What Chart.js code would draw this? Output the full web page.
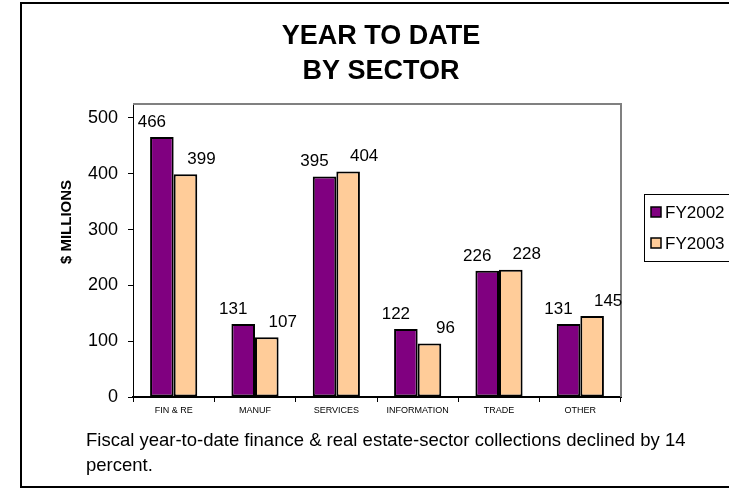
<!DOCTYPE html>
<html>
<head>
<meta charset="utf-8">
<script src="https://cdn.jsdelivr.net/npm/chart.js@4/dist/chart.umd.min.js"></script>
<style>
  html, body { margin: 0; padding: 0; background: #fff; }
  body { width: 729px; height: 488px; position: relative; overflow: hidden; }
  #frame { position: absolute; left: 20px; top: 2px; width: 740px; height: 482px; border: 2px solid #000; }
  #chart { position: absolute; left: 0; top: 0; }
</style>
</head>
<body>
<div id="frame"></div>
<canvas id="chart" width="729" height="488"></canvas>
<script>
const sectors = ["FIN & RE", "MANUF", "SERVICES", "INFORMATION", "TRADE", "OTHER"];
const fy2002 = [466, 131, 395, 122, 226, 131];
const fy2003 = [399, 107, 404, 96, 228, 145];
const yTicks = [0, 100, 200, 300, 400, 500];
const titleLines = ["YEAR TO DATE", "BY SECTOR"];
const yTitle = "$ MILLIONS";
const note = ["Fiscal year-to-date finance & real estate-sector collections declined by 14", "percent."];

const FONT = "'Liberation Sans', Arial, sans-serif";

// labels sit a bit off the bar tops, like the original
const labelOffsets = [{ dx: -10, dy: -15 }, { dx: 16, dy: -15 }];

const extras = {
  id: "extras",
  afterDatasetsDraw(chart) {
    const ctx = chart.ctx;
    const area = chart.chartArea;
    ctx.save();

    // grey plot-area edge on top and right
    ctx.strokeStyle = "#808080";
    ctx.lineWidth = 2;
    ctx.beginPath();
    ctx.moveTo(area.left, area.top);
    ctx.lineTo(area.right, area.top);
    ctx.lineTo(area.right, area.bottom);
    ctx.stroke();

    // value labels
    ctx.fillStyle = "#000";
    ctx.font = "17px " + FONT;
    ctx.textAlign = "center";
    ctx.textBaseline = "middle";
    chart.data.datasets.forEach((ds, i) => {
      const meta = chart.getDatasetMeta(i);
      meta.data.forEach((bar, j) => {
        const off = labelOffsets[i];
        ctx.fillText(String(ds.data[j]), bar.x + off.dx, bar.y + off.dy);
      });
    });

    // title
    ctx.font = "bold 27px " + FONT;
    ctx.fillText(titleLines[0], 381, 37);
    ctx.fillText(titleLines[1], 381, 72);

    // y axis title
    ctx.save();
    ctx.translate(67, 222);
    ctx.rotate(-Math.PI / 2);
    ctx.font = "bold 15px " + FONT;
    ctx.fillText(yTitle, 0, 0);
    ctx.restore();

    // legend with frame
    ctx.lineWidth = 1;
    ctx.strokeStyle = "#000";
    ctx.strokeRect(644.5, 194.5, 86, 67);
    ctx.font = "17px " + FONT;
    ctx.textAlign = "left";
    chart.data.datasets.forEach((ds, i) => {
      const y = 212 + i * 31;
      ctx.fillStyle = ds.backgroundColor;
      ctx.fillRect(651, y - 5, 10, 10);
      ctx.lineWidth = 1.5;
      ctx.strokeRect(651, y - 5, 10, 10);
      ctx.fillStyle = "#000";
      ctx.fillText(ds.label, 665, y + 1);
    });

    // note under the chart
    ctx.font = "18.5px " + FONT;
    ctx.fillText(note[0], 86, 441);
    ctx.fillText(note[1], 86, 466);

    ctx.restore();
  }
};

new Chart(document.getElementById("chart"), {
  type: "bar",
  data: {
    labels: sectors,
    datasets: [
      {
        label: "FY2002",
        data: fy2002,
        backgroundColor: "#800080",
        borderColor: "#000",
        borderWidth: 2,
        borderSkipped: false,
        categoryPercentage: 0.58,
        barPercentage: 1.0
      },
      {
        label: "FY2003",
        data: fy2003,
        backgroundColor: "#FFCC99",
        borderColor: "#000",
        borderWidth: 2,
        borderSkipped: false,
        categoryPercentage: 0.58,
        barPercentage: 1.0
      }
    ]
  },
  options: {
    responsive: false,
    animation: false,
    devicePixelRatio: 1,
    layout: { padding: { top: 104, right: 108, bottom: 0, left: 0 } },
    plugins: {
      legend: { display: false },
      title: { display: false },
      tooltip: { enabled: false }
    },
    scales: {
      x: {
        afterFit(scale) { scale.height = 91; },
        border: { display: true, color: "#000", width: 2 },
        grid: { offset: true, drawOnChartArea: false, drawTicks: true, tickLength: 5, color: "#000" },
        ticks: { color: "#000", font: { family: FONT, size: 9 }, padding: 3, maxRotation: 0, autoSkip: false }
      },
      y: {
        min: 0,
        max: 525,
        afterFit(scale) { scale.width = 133; },
        afterBuildTicks(scale) { scale.ticks = yTicks.map(v => ({ value: v })); },
        border: { display: true, color: "#000", width: 1 },
        grid: { drawOnChartArea: false, drawTicks: true, tickLength: 5, color: "#000" },
        ticks: { color: "#000", font: { family: FONT, size: 18 }, padding: 10 }
      }
    }
  },
  plugins: [extras]
});
</script>
</body>
</html>
